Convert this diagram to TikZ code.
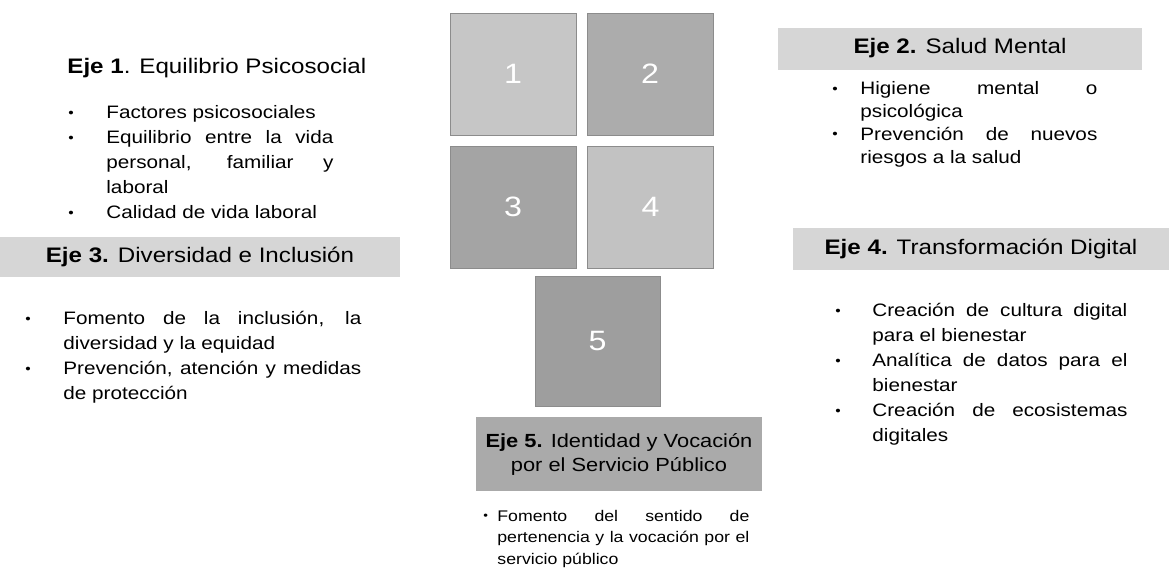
\documentclass[tikz,border=0pt]{standalone}
\usepackage{fontspec}
\setmainfont{Liberation Sans}[FakeStretch=1.15]
\usepackage{xcolor}

\definecolor{sqone}{HTML}{C6C6C6}
\definecolor{sqtwo}{HTML}{ACACAC}
\definecolor{sqthree}{HTML}{A4A4A4}
\definecolor{sqfour}{HTML}{C2C2C2}
\definecolor{sqfive}{HTML}{9E9E9E}
\definecolor{ejegray}{HTML}{D6D6D6}
\definecolor{ejedark}{HTML}{AAAAAA}

\newlength{\bulletgap}
\newcommand{\ejeitem}[1]{\par\noindent\hangindent=\bulletgap\hangafter=1%
  \makebox[\bulletgap][l]{\raisebox{0.15ex}{\scalebox{0.75}{\textbullet}}}#1\par}

\begin{document}
\begin{tikzpicture}
  [x=0.5pt,y=-0.5pt,every node/.style={inner sep=0pt},
   square/.style={draw=black!45,line width=0.4pt,minimum width=63pt,minimum height=61pt,
     text=white,font=\fontsize{14}{16}\selectfont},
   ejebox/.style={fill=ejegray,minimum height=21pt,font=\fontsize{10.5}{13}\selectfont},
   ejetitle/.style={font=\fontsize{10.5}{13}\selectfont},
   ejelist/.style={anchor=north west,align=justify,font=\fontsize{9}{12.5}\selectfont,
     execute at begin node={\setlength{\bulletgap}{#1}}}]
  \useasboundingbox (0,0) rectangle (1169,578);

  % the five squares
  \foreach \n/\x/\y/\c in {1/513/74/sqone, 2/650/74/sqtwo, 3/513/207/sqthree, 4/650.5/207/sqfour}
    \node[square,fill=\c] (s\n) at (\x,\y) {\n};
  \node[square,fill=sqfive,minimum width=62.5pt,minimum height=65pt] (s5) at (597.5,341) {5};

  % eje 1
  \node[ejetitle,anchor=west] (t1) at (67,68) {\textbf{Eje 1}. Equilibrio Psicosocial};
  \node[ejelist=19pt,text width=132.5pt] (l1) at (68,93.5)
    {\ejeitem{Factores psicosociales}%
     \ejeitem{Equilibrio entre la vida\linebreak personal, familiar y\linebreak laboral}%
     \ejeitem{Calidad de vida laboral}};

  % eje 2
  \node[ejebox,minimum width=182pt] (t2) at (960,48.5) {\textbf{Eje 2.} Salud Mental};
  \node[ejelist=14pt,text width=132.5pt,font=\fontsize{9}{11.4}\selectfont] (l2) at (832,71.5)
    {\ejeitem{Higiene mental o\linebreak psicológica}%
     \ejeitem{Prevención de nuevos\linebreak riesgos a la salud}};

  % eje 3
  \node[ejebox,minimum width=200pt,minimum height=20pt] (t3) at (200,257) {\textbf{Eje 3.} Diversidad e Inclusión};
  \node[ejelist=19pt,text width=168pt] (l3) at (25,299.5)
    {\ejeitem{Fomento de la inclusión, la\linebreak diversidad y la equidad}%
     \ejeitem{Prevención, atención y medidas\linebreak de protección}};

  % eje 4
  \node[ejebox,minimum width=188pt] (t4) at (981,249) {\textbf{Eje 4.} Transformación Digital};
  \node[ejelist=18.5pt,text width=146pt] (l4) at (835,291.5)
    {\ejeitem{Creación de cultura digital\linebreak para el bienestar}%
     \ejeitem{Analítica de datos para el\linebreak bienestar}%
     \ejeitem{Creación de ecosistemas\linebreak digitales}};

  % eje 5
  \node[ejebox,fill=ejedark,minimum width=143pt,minimum height=37pt,align=center,
        font=\fontsize{9.5}{12}\selectfont] (t5) at (619,454)
    {\textbf{Eje 5.} Identidad y Vocación\\por el Servicio Público};
  \node[ejelist=7pt,text width=133pt,font=\fontsize{7.7}{10.8}\selectfont] (l5) at (483,499)
    {\ejeitem{Fomento del sentido de\linebreak pertenencia y la vocación por el\linebreak servicio público}};
\end{tikzpicture}
\end{document}
